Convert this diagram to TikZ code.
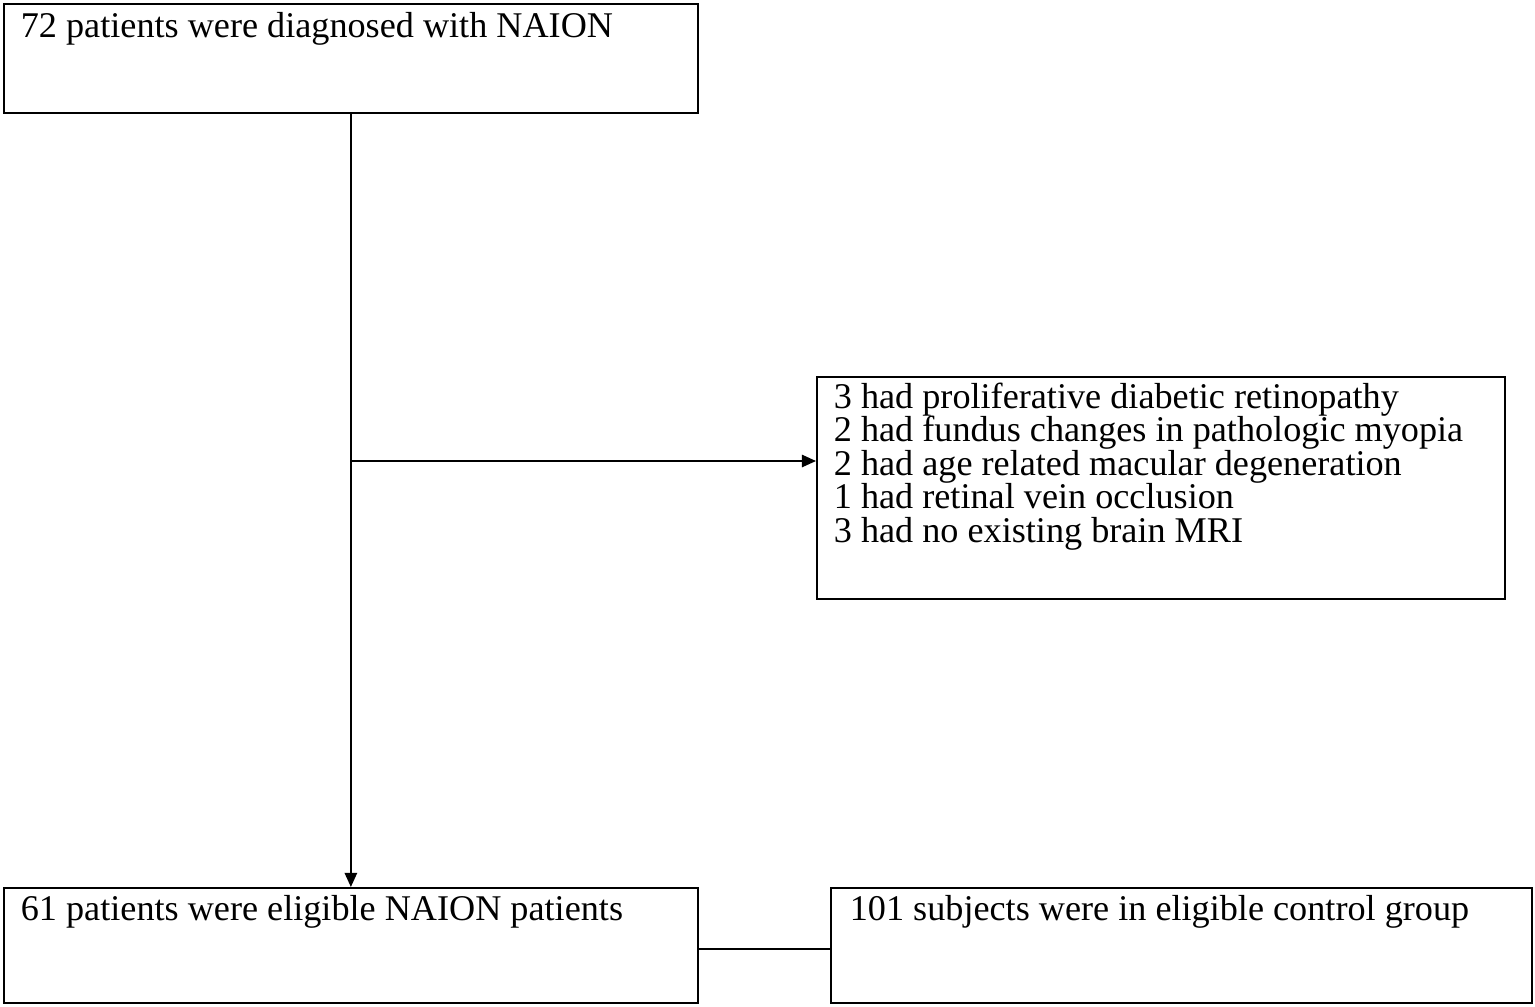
\documentclass[tikz,border=0pt]{standalone}
\usepackage{fontspec}
\setmainfont{Liberation Serif}
\usetikzlibrary{arrows.meta}

\begin{document}
\begin{tikzpicture}[x=1cm, y=1cm, line width=1pt,
    box/.style={draw, anchor=north west, inner sep=0, minimum width=#1},
    txt/.style={anchor=base west, inner sep=0, font=\fontsize{20.6}{24}\selectfont},
    arr/.style={-{Triangle[length=8pt, width=7pt]}}]
    \useasboundingbox (0,0) rectangle (30.7,-20.14);
    % boxes
    \node[box=13.88cm, minimum height=2.18cm] (diag) at (0.06,-0.06) {};
    \node[box=13.76cm, minimum height=4.44cm] (excl) at (16.32,-7.52) {};
    \node[box=13.88cm, minimum height=2.30cm] (elig) at (0.06,-17.74) {};
    \node[box=14.02cm, minimum height=2.30cm] (ctrl) at (16.6,-17.74) {};
    % texts
    \node[txt] (tdiag) at ([shift={(0.34,-0.68)}]diag.north west) {72 patients were diagnosed with NAION};
    \node[txt] (telig) at ([shift={(0.34,-0.66)}]elig.north west) {61 patients were eligible NAION patients};
    \node[txt] (tctrl) at ([shift={(0.38,-0.66)}]ctrl.north west) {101 subjects were in eligible control group};
    \foreach \i/\l in {1/3 had proliferative diabetic retinopathy,
                       2/2 had fundus changes in pathologic myopia,
                       3/2 had age related macular degeneration,
                       4/1 had retinal vein occlusion,
                       5/3 had no existing brain MRI} {
        \node[txt] (ex\i) at ([shift={(0.34,{-0.64-0.67*(\i-1)})}]excl.north west) {\l};
    }
    % connectors
    \draw[arr] (diag.south) -- (elig.north);
    \coordinate (split) at (7.0,-9.22);
    \draw[arr] (split) -- (split -| excl.west);
    \coordinate (join) at ([yshift=-0.07cm]elig.east);
    \draw (join) -- (join -| ctrl.west);
\end{tikzpicture}
\end{document}
